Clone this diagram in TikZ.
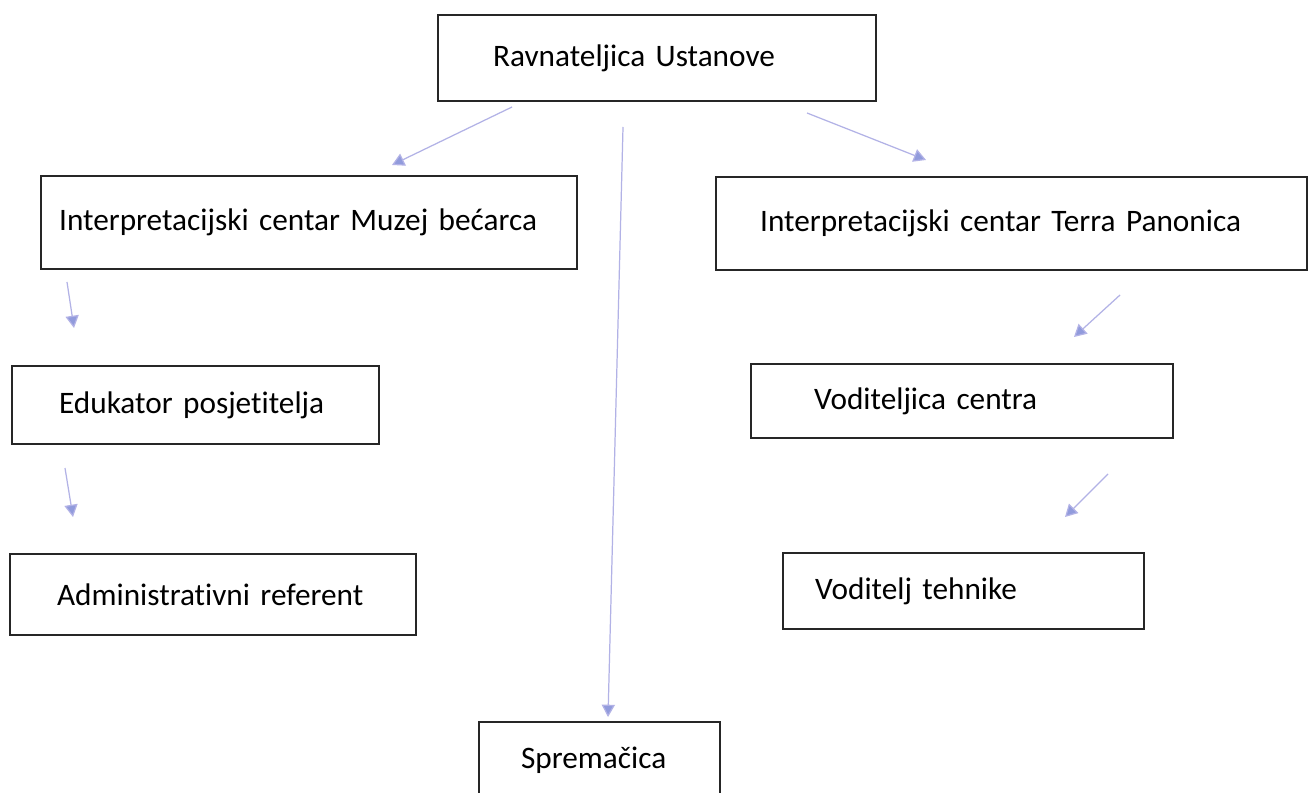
\documentclass[tikz,border=0pt]{standalone}
\usepackage{fontspec}
\setmainfont{Carlito}[Ligatures=NoCommon]
\usepackage{tikz}
\usetikzlibrary{arrows.meta}
\definecolor{linkblue}{RGB}{178,178,230}
\definecolor{tipblue}{RGB}{145,155,220}

\begin{document}
\begin{tikzpicture}[x=0.02cm,y=-0.02cm,
    post/.style={draw=black!85,line width=1.3pt,anchor=north west,align=left,inner ysep=0pt,
      font=\fontsize{17.8}{21}\selectfont},
    link/.style={draw=linkblue,line width=0.7pt,-{Triangle[length=7pt,width=7.5pt,fill=tipblue]}}]
  \useasboundingbox[fill=white] (0,0) rectangle (1310,793);

  % posts
  \node[post,minimum width=8.76cm,minimum height=1.72cm,inner xsep=1.10cm,text width=6.56cm](ravnateljica) at (437,14){Ravnateljica Ustanove};
  \node[post,minimum width=10.72cm,minimum height=1.86cm,inner xsep=0.36cm,text width=10.0cm](muzej) at (40,175){Interpretacijski centar Muzej bećarca};
  \node[post,minimum width=11.82cm,minimum height=1.86cm,inner xsep=0.88cm,text width=10.06cm](terra) at (715,176){Interpretacijski centar Terra Panonica};
  \node[post,minimum width=7.34cm,minimum height=1.56cm,inner xsep=0.94cm,text width=5.46cm](edukator) at (11,365){Edukator posjetitelja};
  \node[post,minimum width=8.12cm,minimum height=1.62cm,inner xsep=0.94cm,text width=6.24cm](referent) at (9,553){Administrativni referent};
  \node[post,minimum width=8.44cm,minimum height=1.48cm,inner xsep=1.26cm,text width=5.92cm](voditeljica) at (750,363){Voditeljica centra};
  \node[post,minimum width=7.22cm,minimum height=1.52cm,inner xsep=0.64cm,text width=5.94cm](tehnika) at (782,552){Voditelj tehnike};
  \node[post,minimum width=4.82cm,minimum height=1.52cm,inner xsep=0.84cm,text width=3.14cm](spremacica) at (478,721){Spremačica};

  % free arrow ends
  \coordinate (r1) at (512,107); \coordinate (m1) at (392,165);
  \coordinate (r2) at (623,127); \coordinate (s1) at (608,717);
  \coordinate (r3) at (807,113); \coordinate (t1) at (926,160);
  \coordinate (m2) at (67,282);  \coordinate (e1) at (74,328);
  \coordinate (e2) at (65,468);  \coordinate (a1) at (73,517);
  \coordinate (t2) at (1120,295); \coordinate (v1) at (1074,337);
  \coordinate (v2) at (1108,474); \coordinate (h1) at (1065,517);

  \draw[link] (r1) -- (m1);
  \draw[link] (r2) -- (s1);
  \draw[link] (r3) -- (t1);
  \draw[link] (m2) -- (e1);
  \draw[link] (e2) -- (a1);
  \draw[link] (t2) -- (v1);
  \draw[link] (v2) -- (h1);
\end{tikzpicture}
\end{document}
